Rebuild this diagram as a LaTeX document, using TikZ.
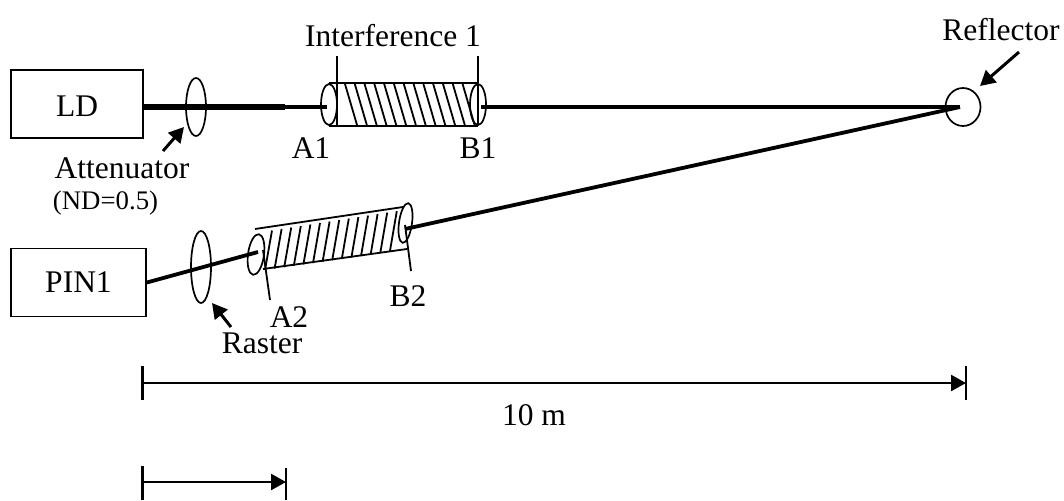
\documentclass[tikz,border=0pt]{standalone}
\usepackage{fontspec}
\setmainfont{Liberation Serif}
\usetikzlibrary{arrows.meta,positioning,calc,shapes.geometric}

\begin{document}
\begin{tikzpicture}[
  x=1pt,y=-1pt,
  >={Triangle[length=15pt,width=16pt]},
  box/.style={draw,line width=1.8pt,inner sep=0pt},
  lens/.style={ellipse,draw,line width=1.7pt,inner sep=0pt},
  lbl/.style={inner sep=0pt,font=\fontsize{31.5}{35}\selectfont},
  fib/.style={line width=3.8pt},
  wire/.style={line width=1.8pt},
  tick/.style={line width=2.2pt},
  e/.style={->,line width=2.4pt},
  ptr/.style={->,line width=3pt}
]
\useasboundingbox (0,0) rectangle (1064,500);

\node[box,minimum width=132pt,minimum height=68pt,lbl,text height=26pt,text depth=0pt] (ld) at (77,104) {LD};
\node[box,minimum width=135pt,minimum height=68pt,lbl] (pin) at (78.5,282.5) {PIN1};

\node[lens,minimum width=20pt,minimum height=58pt] (att) at (196,107) {};
\node[lens,minimum width=20pt,minimum height=72pt] (ras) at (201,267) {};
\node[lens,minimum width=16pt,minimum height=41pt] (a1) at (329,104.5) {};
\node[lens,minimum width=16pt,minimum height=41pt] (b1) at (478,104.5) {};
\node[lens,minimum width=16pt,minimum height=41pt,rotate=-8] (a2) at (256,254.5) {};
\node[lens,minimum width=13pt,minimum height=40pt,rotate=-8] (b2) at (405.5,223) {};
\node[lens,minimum width=35pt,minimum height=38pt] (refl) at (963,107) {};

\coordinate (hit) at (960,107);
\coordinate (narrow) at (285,107);
\coordinate (a1end) at (327,107);
\coordinate (b1end) at (481,107);
\coordinate (a2end) at (258,252);
\coordinate (b2end) at (405,229);

% fibres
\draw[line width=5.4pt] (ld.east |- narrow) -- (narrow);
\draw[fib] (narrow) -- (a1end);
\draw[fib] (b1end) -- (hit);
\draw[fib] (pin.east) -- (a2end);
\draw[fib] (b2end) -- (hit);

% coil 1
\draw[wire] (a1.north) -- (b1.north);
\draw[wire] (a1.south) -- (b1.south);
\draw[wire] (337,56) -- (337,125);
\draw[wire] (478,56) -- (478,125);
\foreach \i in {0,...,12}
  \draw[wire] ({345+9.8*\i},84) -- ({357+9.8*\i},125);

% coil 2
\draw[wire] (255,229) -- (403,207);
\draw[wire] (263,269) -- (407,249);
\foreach \i in {0,...,13}
  \draw[wire] ({272+9.6*\i},{230.5-1.49*\i}) -- ({265+9.6*\i},{270-1.39*\i});
\draw[wire] (263,250) -- (270,300);
\draw[wire] (405,225) -- (411,271);

% labels
\node[lbl] (t1) at (393,36) {Interference 1};
\node[lbl] (ta1) at (311,148) {A1};
\node[lbl] (tb1) at (478,148) {B1};
\node[lbl] (tatt) at (122,168) {Attenuator};
\node[inner sep=0pt,font=\fontsize{26.8}{30}\selectfont] (tnd) at (105.5,203) {(ND=0.5)};
\node[lbl] (tref) at (1001,30) {Reflector};
\node[lbl] (ta2) at (289,317) {A2};
\node[lbl] (tb2) at (408,296) {B2};
\node[lbl] (tras) at (262,343) {Raster};
\node[lbl] (tdist) at (534,415) {10 m};

% pointers
\coordinate (attfoot) at (163,151);
\coordinate (atttip) at (184,127);
\coordinate (rasfoot) at (231,327);
\coordinate (rastip) at (212,303);
\coordinate (reffoot) at (1019,52);
\coordinate (reftip) at (980,86);
\draw[ptr] (attfoot) -- (atttip);
\draw[ptr] (rasfoot) -- (rastip);
\draw[ptr] (reffoot) -- (reftip);

% scale bars
\coordinate (d0) at (142.5,383);
\coordinate (d1) at (966,383);
\coordinate (s0) at (142.5,482);
\coordinate (s1) at (286,482);
\draw[e] (d0) -- (d1);
\draw[e] (s0) -- (s1);
\draw[tick] (142.5,366) -- (142.5,400);
\draw[tick] (966,366) -- (966,400);
\draw[tick] (142.5,466) -- (142.5,500);
\draw[tick] (286,468) -- (286,500);
\end{tikzpicture}
\end{document}
